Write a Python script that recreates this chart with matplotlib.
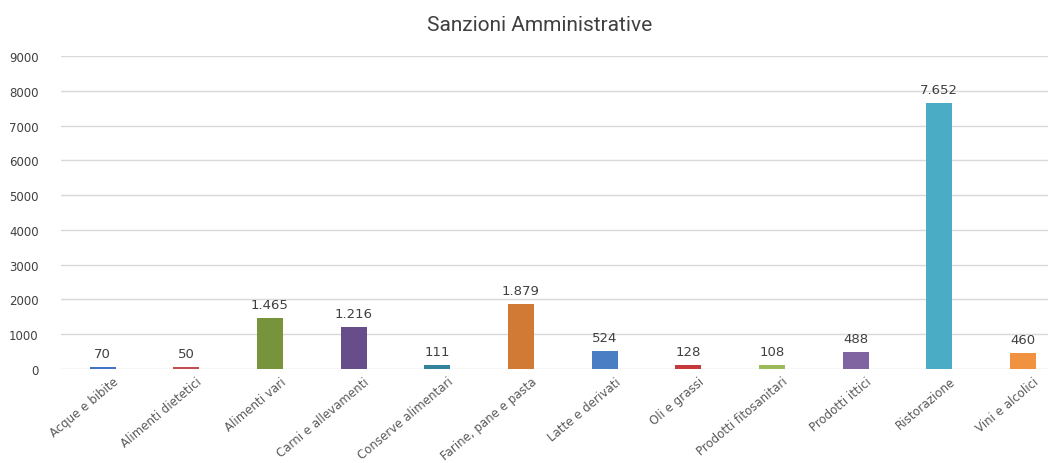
import matplotlib
matplotlib.use("Agg")
import matplotlib.pyplot as plt

categories = [
    "Acque e bibite", "Alimenti dietetici", "Alimenti vari", "Carni e allevamenti",
    "Conserve alimentari", "Farine, pane e pasta", "Latte e derivati", "Oli e grassi",
    "Prodotti fitosanitari", "Prodotti ittici", "Ristorazione", "Vini e alcolici",
]
sanzioni = [70, 50, 1465, 1216, 111, 1879, 524, 128, 108, 488, 7652, 460]
bar_colors = [
    "#4472C4", "#C0504D", "#77933C", "#674E8A", "#31849B", "#D07A35",
    "#4A7EC4", "#C8383A", "#9BBB59", "#8064A2", "#4BACC6", "#F0923F",
]
y_ticks = list(range(0, 9001, 1000))

fig = plt.figure(figsize=(10.48, 4.64), dpi=100)
ax = fig.add_axes([0.058, 0.2026, 0.958, 0.6745])

x = range(len(categories))
ax.bar(x, sanzioni, width=0.31, color=bar_colors, zorder=3)

for xi, v in zip(x, sanzioni):
    label = f"{v:,}".replace(",", ".")
    ax.text(xi, v + 200, label, ha="center", va="bottom",
            fontsize=9.5, color="#404040", family="DejaVu Sans")

ax.set_xlim(-0.5, len(categories) - 0.5)
ax.set_ylim(0, 9000)
ax.set_yticks(y_ticks)
ax.set_yticklabels([str(t) for t in y_ticks], fontsize=8.5, color="#404040",
                   family="DejaVu Sans")
ax.set_xticks([xi + 0.12 for xi in x])
ax.set_xticklabels(categories, rotation=40, ha="right", rotation_mode="anchor",
                   fontsize=8.5, color="#595959", family="DejaVu Sans")
ax.tick_params(axis="both", length=0)
ax.tick_params(axis="y", pad=16)
ax.tick_params(axis="x", pad=4)

ax.grid(axis="y", color="#D9D9D9", linewidth=1.0, zorder=0)
for s in ax.spines.values():
    s.set_visible(False)

fig.text(0.515, 0.945, "Sanzioni Amministrative", ha="center", va="center",
         fontsize=15, color="#404040", family="Roboto")

fig.savefig("out.png", dpi=100, facecolor="white")
